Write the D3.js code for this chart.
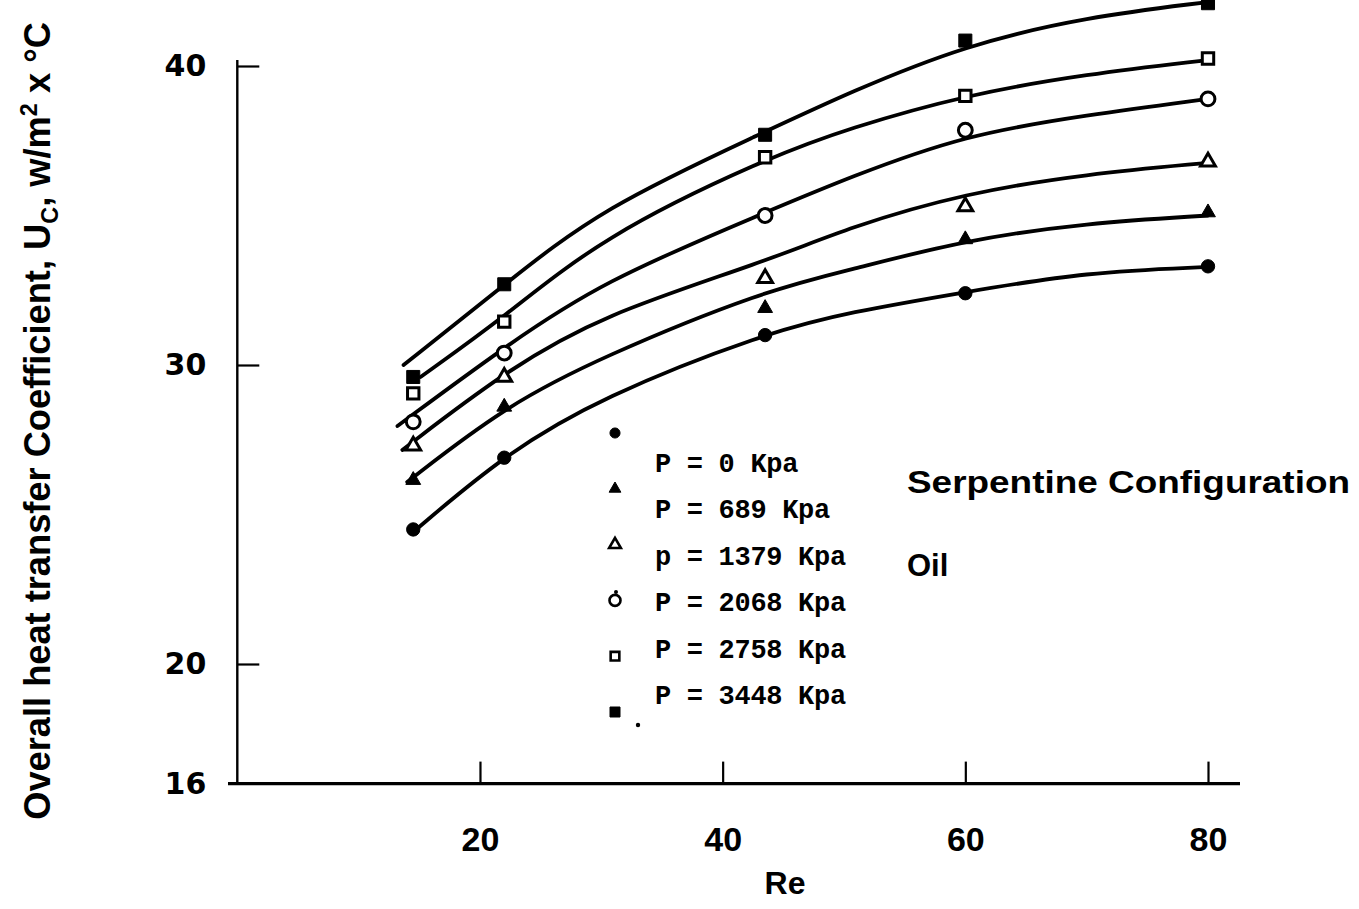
<!DOCTYPE html>
<html>
<head>
<meta charset="utf-8">
<script src="https://cdn.jsdelivr.net/npm/d3@7"></script>
<style>
  body { margin: 0; background: #fff; }
  svg { display: block; }
</style>
</head>
<body>
<svg id="chart"></svg>
<script>
var reMeasured = [14.5, 22, 43.5, 60, 80];
var uc0    = [24.5, 26.9, 31.0, 32.4, 33.3];
var uc689  = [26.15, 28.6, 31.9, 34.2, 35.1];
var uc1379 = [27.3, 29.6, 32.9, 35.3, 36.8];
var uc2068 = [28.1, 30.4, 35.0, 37.85, 38.9];
var uc2758 = [29.05, 31.45, 36.95, 39.0, 40.25];
var uc3448 = [29.6, 32.7, 37.7, 40.85, 42.1];

// hand drawn fitted curves (first point is where each curve starts)
var fitStart = [14.4, 14.0, 13.6, 13.2, 15.1, 13.7];
var reFit = [22, 30, 43.5, 50.5, 60, 70, 80];
var fit0    = [24.38, 27.0, 28.93, 31.07, 31.77, 32.44, 33.11, 33.28];
var fit689  = [26.09, 28.6, 30.27, 32.5, 33.18, 34.18, 34.75, 35.0];
var fit1379 = [27.16, 29.77, 31.67, 33.45, 34.62, 35.75, 36.39, 36.76];
var fit2068 = [27.96, 30.6, 32.78, 35.1, 36.29, 37.7, 38.36, 38.9];
var fit2758 = [29.6, 31.6, 34.28, 36.9, 37.93, 39.03, 39.73, 40.2];
var fit3448 = [30.0, 32.68, 35.25, 37.8, 39.13, 40.7, 41.64, 42.14];

var seriesNames = ['P = 0 Kpa', 'P = 689 Kpa', 'p = 1379 Kpa', 'P = 2068 Kpa', 'P = 2758 Kpa', 'P = 3448 Kpa'];
var reTicks = [20, 40, 60, 80];
var ucTicks = [16, 20, 30, 40];

var w = 1359, h = 909;

var measured = [uc0, uc689, uc1379, uc2068, uc2758, uc3448];
var fitted = [fit0, fit689, fit1379, fit2068, fit2758, fit3448];
var shapes = [d3.symbolCircle, d3.symbolTriangle, d3.symbolTriangle, d3.symbolCircle, d3.symbolSquare, d3.symbolSquare];
var filled = [true, true, false, false, false, true];
var markSize = [140, 95, 95, 150, 130, 170];
var legSize = [80, 60, 60, 95, 75, 100];

var x = d3.scaleLinear().domain([0, 80]).range([237.3, 1208]);
var y = d3.scaleLinear().domain([16, 40]).range([783.6, 66]);

var svg = d3.select('#chart')
  .attr('width', w)
  .attr('height', h);

// axes lines
svg.append('line')
  .attr('x1', 228).attr('x2', 1240)
  .attr('y1', y(16)).attr('y2', y(16))
  .attr('stroke', '#000').attr('stroke-width', 3.2);
svg.append('line')
  .attr('x1', x(0)).attr('x2', x(0))
  .attr('y1', y(16) + 1).attr('y2', y(40.2))
  .attr('stroke', '#000').attr('stroke-width', 2.4);

var xAxis = svg.append('g')
  .attr('transform', 'translate(0,' + y(16) + ')')
  .call(d3.axisBottom(x).tickValues(reTicks).tickSizeInner(-22).tickSizeOuter(0).tickPadding(43));
var yAxis = svg.append('g')
  .attr('transform', 'translate(' + x(0) + ',0)')
  .call(d3.axisLeft(y).tickValues(ucTicks).tickSizeInner(-22).tickSizeOuter(0).tickPadding(31));

svg.selectAll('.domain').remove();
svg.selectAll('.tick line').attr('stroke', '#000').attr('stroke-width', 2.2);
yAxis.selectAll('.tick').filter(function(d){ return d === 16; }).select('line').remove();

xAxis.selectAll('.tick text')
  .attr('fill', '#000')
  .style('font-family', '"Liberation Sans", Arial, sans-serif')
  .style('font-weight', 'bold')
  .style('font-size', '34px');
yAxis.selectAll('.tick text')
  .attr('fill', '#000')
  .style('font-family', '"DejaVu Sans", sans-serif')
  .style('font-weight', 'bold')
  .style('font-size', '30px');

// axis titles
svg.append('text')
  .attr('x', 785).attr('y', 894)
  .attr('text-anchor', 'middle')
  .style('font-family', '"Liberation Sans", Arial, sans-serif')
  .style('font-weight', 'bold')
  .style('font-size', '32px')
  .text('Re');

var yTitleG = svg.append('g').attr('transform', 'translate(37,421) rotate(-90)');
var yTitle = yTitleG.append('text')
  .attr('text-anchor', 'middle')
  .attr('dy', '0.36em')
  .style('font-family', '"Liberation Sans", Arial, sans-serif')
  .style('font-weight', 'bold')
  .style('font-size', '37px');
yTitle.append('tspan').text('Overall heat transfer Coefficient, U');
yTitle.append('tspan').attr('dy', 8).style('font-size', '24px').text('C');
yTitle.append('tspan').attr('dy', -8).text(', w/m');
yTitle.append('tspan').attr('dy', -13).style('font-size', '24px').text('2');
yTitle.append('tspan').attr('dy', 13).text(' x \u00B0C');
var yLen = yTitle.node().getComputedTextLength();
yTitle.attr('transform', 'scale(' + (798 / yLen) + ',1)');

// fitted curves
var line = d3.line()
  .x(function(d){ return x(d[0]); })
  .y(function(d){ return y(d[1]); })
  .curve(d3.curveBasis);

fitted.forEach(function(vals, i) {
  var pts = vals.map(function(v, j) {
    return [j === 0 ? fitStart[i] : reFit[j - 1], v];
  });
  svg.append('path')
    .datum(pts)
    .attr('d', line)
    .attr('fill', 'none')
    .attr('stroke', '#000')
    .attr('stroke-width', 3.8)
    .attr('stroke-linecap', 'round');
});

// measured markers
measured.forEach(function(vals, i) {
  svg.append('g').selectAll('path')
    .data(vals)
    .enter()
    .append('path')
    .attr('transform', function(d, j){ return 'translate(' + x(reMeasured[j]) + ',' + y(d) + ')'; })
    .attr('d', d3.symbol().type(shapes[i]).size(markSize[i]))
    .attr('fill', filled[i] ? '#000' : '#fff')
    .attr('stroke', '#000')
    .attr('stroke-width', filled[i] ? 1 : 3);
});

// legend
var legend = svg.append('g');
seriesNames.forEach(function(name, i) {
  legend.append('path')
    .attr('transform', 'translate(615,' + (433 + i * 55.8) + ')')
    .attr('d', d3.symbol().type(shapes[i]).size(legSize[i]))
    .attr('fill', filled[i] ? '#000' : '#fff')
    .attr('stroke', '#000')
    .attr('stroke-width', filled[i] ? 1 : 2.6);
  legend.append('text')
    .attr('x', 655)
    .attr('y', 472 + i * 46.4)
    .style('font-family', '"Liberation Mono", "DejaVu Sans Mono", monospace')
    .style('font-weight', 'bold')
    .style('font-size', '27px')
    .style('letter-spacing', '-0.3px')
    .text(name);
});
legend.append('circle').attr('cx', 616).attr('cy', 592).attr('r', 2).attr('fill', '#000');
legend.append('circle').attr('cx', 638).attr('cy', 725).attr('r', 2.2).attr('fill', '#000');

// annotations
svg.append('text')
  .attr('x', 907).attr('y', 493)
  .attr('textLength', 443)
  .attr('lengthAdjust', 'spacingAndGlyphs')
  .style('font-family', '"Liberation Sans", Arial, sans-serif')
  .style('font-weight', 'bold')
  .style('font-size', '31px')
  .text('Serpentine Configuration');

svg.append('text')
  .attr('x', 907).attr('y', 576)
  .style('font-family', '"Liberation Sans", Arial, sans-serif')
  .style('font-weight', 'bold')
  .style('font-size', '31px')
  .text('Oil');
</script>
</body>
</html>
